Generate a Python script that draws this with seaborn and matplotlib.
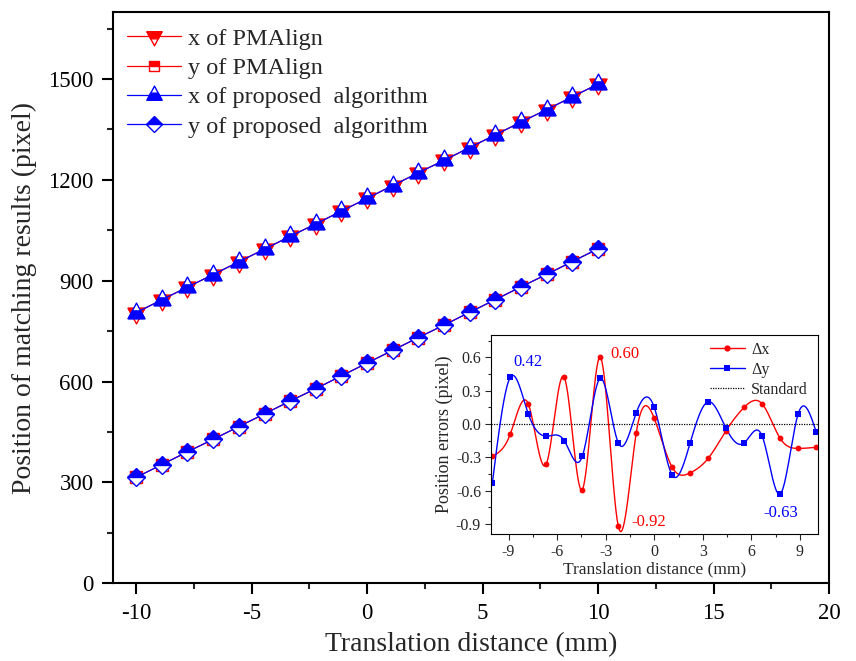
import numpy as np
import pandas as pd
import matplotlib
matplotlib.use("Agg")
import matplotlib.pyplot as plt
import seaborn as sns
from matplotlib.path import Path
from matplotlib.lines import Line2D
from matplotlib.legend_handler import HandlerTuple
from matplotlib.ticker import MultipleLocator

# ---------------- data ----------------
distance = [-10, -8.89, -7.78, -6.67, -5.56, -4.44, -3.33, -2.22, -1.11, 0,
            1.11, 2.22, 3.33, 4.44, 5.56, 6.67, 7.78, 8.89, 10]
x_pmalign = [805, 843, 881, 918, 956, 994, 1032, 1069, 1107, 1145,
             1183, 1221, 1258, 1296, 1334, 1372, 1409, 1447, 1485]
y_pmalign = [315, 353, 391, 428, 466, 504, 542, 579, 617, 655,
             693, 731, 768, 806, 844, 882, 919, 957, 995]
x_proposed = [805, 843, 881, 918, 956, 994, 1032, 1069, 1107, 1145,
              1183, 1221, 1258, 1296, 1334, 1372, 1409, 1447, 1485]
y_proposed = [315, 353, 391, 428, 466, 504, 542, 579, 617, 655,
              693, 731, 768, 806, 844, 882, 919, 957, 995]
err_x = [-0.29, -0.09, 0.18, -0.36, 0.42, -0.59, 0.60, -0.92, -0.08, 0.05,
         -0.39, -0.44, -0.31, -0.06, 0.15, 0.18, -0.13, -0.22, -0.21]
err_y = [-0.53, 0.42, 0.09, -0.11, -0.15, -0.29, 0.41, -0.17, 0.10, 0.15,
         -0.46, -0.17, 0.20, -0.04, -0.17, -0.11, -0.63, 0.09, -0.07]

main_xticks = [-10, -5, 0, 5, 10, 15, 20]
main_yticks = [0, 300, 600, 900, 1200, 1500]
inset_xticks = [-9, -6, -3, 0, 3, 6, 9]
inset_yticks = [-0.9, -0.6, -0.3, 0.0, 0.3, 0.6]

# ---------------- style ----------------
sns.set_style("ticks")
plt.rcParams["font.family"] = ["Liberation Serif", "DejaVu Serif"]
plt.rcParams["axes.unicode_minus"] = False

RED = "#FF0000"
BLUE = "#0000FF"


def marker_path(verts, extent_pt):
    # leading MOVETO with an extreme vertex keeps the same normalization
    v = [extent_pt] + list(verts) + [verts[0]]
    codes = [Path.MOVETO, Path.MOVETO] + [Path.LINETO] * (len(verts) - 1) + [Path.CLOSEPOLY]
    return Path(v, codes)


w = 0.8
tri_down_full = marker_path([(-w, 0.5), (w, 0.5), (0, -1)], (0, -1))
tri_down_half = marker_path([(-w, 0.5), (w, 0.5), (w / 2, -0.25), (-w / 2, -0.25)], (0, -1))
tri_up_full = marker_path([(0, 1), (-w, -0.5), (w, -0.5)], (0, 1))
tri_up_half = marker_path([(-w, -0.5), (w, -0.5), (w / 2, 0.25), (-w / 2, 0.25)], (0, 1))

fig = plt.figure(figsize=(8.56, 6.61), dpi=100)
ax = fig.add_axes([0.132, 0.1175, 0.8365, 0.8648])

TRI_MS = 15

# x of PMAlign
sns.lineplot(x=distance, y=x_pmalign, ax=ax, sort=False, estimator=None,
             color=RED, linewidth=0.9, marker=tri_down_full, markersize=TRI_MS,
             markerfacecolor="white", markeredgecolor=RED, markeredgewidth=1.0)
h1a = ax.lines[-1]
h1b, = ax.plot(distance, x_pmalign, ls="none", marker=tri_down_half, ms=TRI_MS,
               mfc=RED, mec=RED, mew=1.0)
# y of PMAlign
sns.lineplot(x=distance, y=y_pmalign, ax=ax, sort=False, estimator=None,
             color=RED, linewidth=0.9, marker="s", markersize=8.5,
             fillstyle="top", markerfacecolor=RED, markerfacecoloralt="white",
             markeredgecolor=RED, markeredgewidth=1.0)
h2 = ax.lines[-1]
# x of proposed
sns.lineplot(x=distance, y=x_proposed, ax=ax, sort=False, estimator=None,
             color=BLUE, linewidth=0.9, marker=tri_up_full, markersize=TRI_MS,
             markerfacecolor="white", markeredgecolor=BLUE, markeredgewidth=1.0)
h3a = ax.lines[-1]
h3b, = ax.plot(distance, x_proposed, ls="none", marker=tri_up_half, ms=TRI_MS,
               mfc=BLUE, mec=BLUE, mew=1.0)
# y of proposed
sns.lineplot(x=distance, y=y_proposed, ax=ax, sort=False, estimator=None,
             color=BLUE, linewidth=0.9, marker="D", markersize=9.2,
             fillstyle="top", markerfacecolor=BLUE, markerfacecoloralt="white",
             markeredgecolor=BLUE, markeredgewidth=1.0)
h4 = ax.lines[-1]

ax.set_xlim(-11, 20)
ax.set_ylim(0, 1700)
ax.set_xticks(main_xticks)
ax.set_yticks(main_yticks)
ax.xaxis.set_minor_locator(MultipleLocator(2.5))
ax.yaxis.set_minor_locator(MultipleLocator(150))
ax.tick_params(axis="both", which="major", direction="out", length=8, width=1.5,
               labelsize=16.5, pad=6, colors="black")
ax.tick_params(axis="both", which="minor", direction="out", length=4.5, width=1.5)
ax.tick_params(top=False, right=False, which="both")
for s in ax.spines.values():
    s.set_visible(True)
    s.set_linewidth(1.5)
    s.set_color("black")
ax.set_xlabel("Translation distance (mm)", fontsize=20, labelpad=6)
ax.set_ylabel("Position of matching results (pixel)", fontsize=20, labelpad=8)

leg = ax.legend([(h1a, h1b), h2, (h3a, h3b), h4],
                ["x of PMAlign", "y of PMAlign", "x of proposed  algorithm",
                 "y of proposed  algorithm"],
                handler_map={tuple: HandlerTuple(ndivide=1, pad=0)},
                loc="upper left", bbox_to_anchor=(0.02, 0.972), frameon=False,
                fontsize=17.5, handlelength=2.2, handletextpad=0.3,
                labelspacing=0.3, borderaxespad=0, borderpad=0, markerscale=0.9)

# ---------------- inset ----------------
ax2 = fig.add_axes([0.5733, 0.1921, 0.382, 0.3011])


def natural_spline(x, y, xs):
    x = np.asarray(x, float)
    y = np.asarray(y, float)
    n = len(x)
    h = np.diff(x)
    A = np.zeros((n, n))
    b = np.zeros(n)
    A[0, 0] = 1
    A[-1, -1] = 1
    for i in range(1, n - 1):
        A[i, i - 1] = h[i - 1]
        A[i, i] = 2 * (h[i - 1] + h[i])
        A[i, i + 1] = h[i]
        b[i] = 3 * ((y[i + 1] - y[i]) / h[i] - (y[i] - y[i - 1]) / h[i - 1])
    c = np.linalg.solve(A, b)
    bc = (y[1:] - y[:-1]) / h - h * (2 * c[:-1] + c[1:]) / 3
    d = (c[1:] - c[:-1]) / (3 * h)
    idx = np.clip(np.searchsorted(x, xs) - 1, 0, n - 2)
    dx = xs - x[idx]
    return y[idx] + bc[idx] * dx + c[idx] * dx ** 2 + d[idx] * dx ** 3


xs = np.linspace(min(distance), max(distance), 600)
ax2.axhline(0, color="black", lw=0.9, ls=(0, (1, 1)), zorder=1)
ax2.plot(xs, natural_spline(distance, err_x, xs), color=RED, lw=1.0)
ax2.plot(xs, natural_spline(distance, err_y, xs), color=BLUE, lw=1.0)
sns.lineplot(x=distance, y=err_x, ax=ax2, sort=False, estimator=None, color=RED,
             linestyle="none", marker="o", markersize=4.2, markeredgewidth=0,
             markerfacecolor=RED)
sns.lineplot(x=distance, y=err_y, ax=ax2, sort=False, estimator=None, color=BLUE,
             linestyle="none", marker="s", markersize=4.2, markeredgewidth=0,
             markerfacecolor=BLUE)

ax2.set_xlim(-10.1, 10.1)
ax2.set_ylim(-0.99, 0.8)
ax2.set_xticks(inset_xticks)
ax2.set_yticks(inset_yticks)
ax2.set_yticklabels([f"{v:.1f}" for v in inset_yticks])
ax2.xaxis.set_minor_locator(MultipleLocator(1.5))
ax2.yaxis.set_minor_locator(MultipleLocator(0.15))
ax2.tick_params(axis="both", which="major", direction="out", length=4, width=0.8,
                labelsize=11.5, pad=3)
ax2.tick_params(axis="both", which="minor", direction="out", length=2.2, width=0.8)
ax2.tick_params(top=False, right=False, which="both")
for s in ax2.spines.values():
    s.set_visible(True)
    s.set_linewidth(0.8)
    s.set_color("black")
ax2.set_xlabel("Translation distance (mm)", fontsize=12.5, labelpad=1)
ax2.set_ylabel("Position errors (pixel)", fontsize=13, labelpad=2)

ax2.text(-7.8, 0.56, "0.42", color=BLUE, fontsize=12, ha="center", va="center")
ax2.text(-1.8, 0.63, "0.60", color=RED, fontsize=12, ha="center", va="center")
ax2.text(-0.35, -0.88, "-0.92", color=RED, fontsize=12, ha="center", va="center")
ax2.text(7.8, -0.80, "-0.63", color=BLUE, fontsize=12, ha="center", va="center")

inset_handles = [Line2D([], [], color=RED, lw=1.0, marker="o", ms=4.5, mew=0),
                 Line2D([], [], color=BLUE, lw=1.0, marker="s", ms=4.5, mew=0),
                 Line2D([], [], color="black", lw=0.9, ls=(0, (1, 1)))]
ax2.legend(inset_handles, ["\u0394x", "\u0394y", "Standard"], loc="upper left",
           bbox_to_anchor=(0.67, 0.965), frameon=False, fontsize=11.5,
           handlelength=2.2, handletextpad=0.4, labelspacing=0.25,
           borderaxespad=0, borderpad=0)

fig.savefig("out.png", dpi=100)
